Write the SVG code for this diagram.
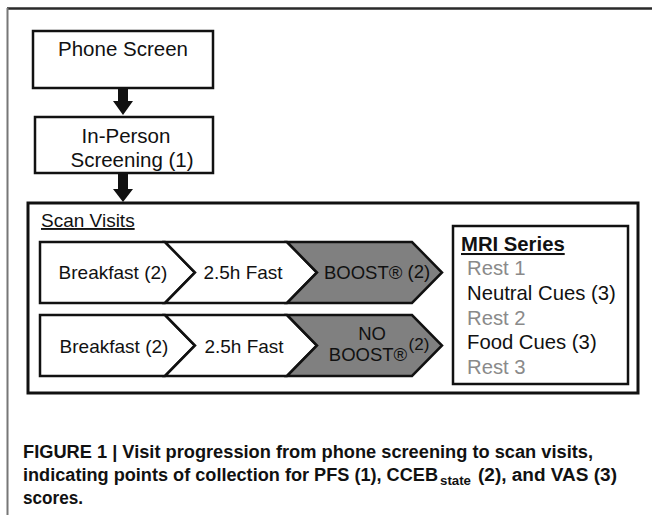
<svg xmlns="http://www.w3.org/2000/svg" width="652" height="515" viewBox="0 0 652 515">
<style>
text{font-family:"Liberation Sans",Arial,Helvetica,sans-serif;fill:#111}
.box{fill:#fff;stroke:#111;stroke-width:2.5}
.chev{fill:#fff;stroke:#111;stroke-width:2.5;stroke-linejoin:miter}
.chevg{fill:#808080;stroke:#111;stroke-width:2.5;stroke-linejoin:miter}
.t20{font-size:20.5px}
.t19{font-size:19px}
.t18{font-size:18.5px}
.mri{font-size:20.3px}
.grey{fill:#8a8a8a}
.cap{font-size:18px;font-weight:bold}
.arrow{fill:#111}
</style>
<rect width="652" height="515" fill="#fff"/>
<g id="frame">
<line x1="7" y1="8.5" x2="652" y2="8.5" stroke="#2a2a2a" stroke-width="2.5"/>
<line x1="7.5" y1="8" x2="7.5" y2="515" stroke="#777" stroke-width="2"/>
</g>
<g id="phone-screen">
<rect class="box" x="33" y="31" width="180" height="57"/>
<text class="t20" x="123" y="56" text-anchor="middle">Phone Screen</text>
</g>
<g id="in-person">
<rect class="box" x="35" y="117" width="178" height="56"/>
<text class="t20" x="126" y="143" text-anchor="middle">In-Person</text>
<text class="t20" x="132" y="167" text-anchor="middle">Screening (1)</text>
</g>
<g id="connectors">
<polygon class="arrow" points="118,88 128,88 128,101 133,101 123,115 113,101 118,101"/>
<polygon class="arrow" points="118,174 128,174 128,189 133,189 123,202 113,189 118,189"/>
</g>
<g id="scan-visits">
<rect x="28" y="203" width="610" height="190" fill="#fff" stroke="#111" stroke-width="3"/>
<text class="t19" x="41" y="227" text-decoration="underline">Scan Visits</text>
</g>
<g id="breakfast-1">
<polygon class="chev" points="40,242 165,242 195,272.5 165,303 40,303"/>
<text class="t19" x="113" y="279" text-anchor="middle">Breakfast (2)</text>
</g>
<g id="fast-1">
<polygon class="chev" points="165,242 287,242 317,272.5 287,303 165,303 195,272.5"/>
<text class="t19" x="243" y="279" text-anchor="middle">2.5h Fast</text>
</g>
<g id="boost-1">
<polygon class="chevg" points="287,242 412,242 442,272.5 412,303 287,303 317,272.5"/>
<text class="t18" x="324" y="279">BOOST® <tspan dy="-1">(2)</tspan></text>
</g>
<g id="breakfast-2">
<polygon class="chev" points="40,315 165,315 195,345.5 165,376 40,376"/>
<text class="t19" x="114" y="353" text-anchor="middle">Breakfast (2)</text>
</g>
<g id="fast-2">
<polygon class="chev" points="165,315 287,315 317,345.5 287,376 165,376 195,345.5"/>
<text class="t19" x="244" y="353" text-anchor="middle">2.5h Fast</text>
</g>
<g id="no-boost-2">
<polygon class="chevg" points="287,315 412,315 442,345.5 412,376 287,376 317,345.5"/>
<text class="t18" text-anchor="middle"><tspan x="372" y="340">NO</tspan><tspan x="368" y="361">BOOST®</tspan><tspan x="419" y="350" style="font-size:17px">(2)</tspan></text>
</g>
<g id="mri-series">
<rect class="box" x="453" y="226" width="175" height="158"/>
<text class="mri" x="461" y="251" font-weight="bold" text-decoration="underline">MRI Series</text>
<text class="mri grey" x="467" y="275">Rest 1</text>
<text class="mri" x="467" y="300">Neutral Cues (3)</text>
<text class="mri grey" x="467" y="325">Rest 2</text>
<text class="mri" x="467" y="349">Food Cues (3)</text>
<text class="mri grey" x="467" y="374">Rest 3</text>
</g>
<g id="caption">
<text class="cap" x="23" y="458" textLength="570" lengthAdjust="spacingAndGlyphs">FIGURE 1 | Visit progression from phone screening to scan visits,</text>
<text class="cap" x="23" y="481" textLength="415" lengthAdjust="spacingAndGlyphs">indicating points of collection for PFS (1), CCEB</text>
<text x="440" y="485" style="font-size:13px;font-weight:bold" textLength="31" lengthAdjust="spacingAndGlyphs">state</text>
<text class="cap" x="478" y="481" textLength="139" lengthAdjust="spacingAndGlyphs">(2), and VAS (3)</text>
<text class="cap" x="23" y="504" textLength="60" lengthAdjust="spacingAndGlyphs">scores.</text>
</g>
</svg>
